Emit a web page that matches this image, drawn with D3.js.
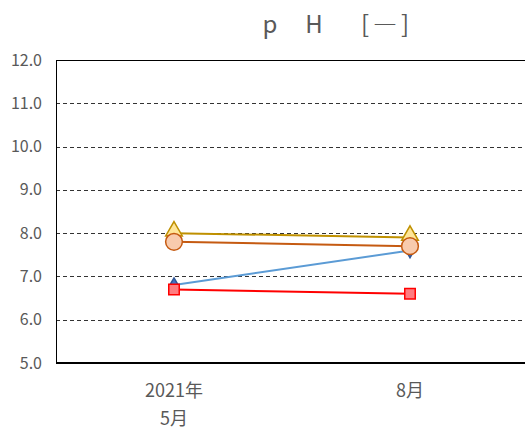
<!DOCTYPE html>
<html>
<head>
<meta charset="utf-8">
<script src="https://cdn.jsdelivr.net/npm/d3@7"></script>
<style>
  body { margin: 0; background: #fff; }
  text { font-family: "Noto Sans CJK JP", "Noto Sans", sans-serif; fill: #595959; }
</style>
</head>
<body>
<div id="chart-container"></div>
<script>
// categories (x) - two-line labels
var categories = ["2021年\n5月", "8月"];
var yTicks = [5, 6, 7, 8, 9, 10, 11, 12];

// series values
var phYellow = [8.0, 7.9];
var phOrange = [7.8, 7.7];
var phBlue = [6.8, 7.6];
var phRed = [6.7, 6.6];

// title pieces, spaced out like the original
var titleParts = ["p", "H", "[―]"];
var titleX = [270, 314, 387];

var series = [
  { name: "blue", values: phBlue, line: "#5B9BD5", fill: "#4472C4", stroke: "#2F5597", shape: d3.symbolDiamond, size: 60 },
  { name: "yellow", values: phYellow, line: "#BF9000", fill: "#FFE699", stroke: "#BF9000", shape: d3.symbolTriangle, size: 120 },
  { name: "orange", values: phOrange, line: "#C55A11", fill: "#F8CBAD", stroke: "#C55A11", shape: d3.symbolCircle, size: 220 },
  { name: "red", values: phRed, line: "#FF0000", fill: "#FF7C80", stroke: "#FF0000", shape: d3.symbolSquare, size: 110 }
];

var W = 525, H = 432;
var margin = { top: 60, right: 0, bottom: 69, left: 56 };
var plotW = 472; // runs off the right edge like the original
var plotH = H - margin.top - margin.bottom;

var svg = d3.select("#chart-container").append("svg")
  .attr("width", W).attr("height", H);

var g = svg.append("g")
  .attr("transform", "translate(" + margin.left + "," + margin.top + ")");

var x = d3.scaleBand().domain(d3.range(categories.length)).range([0, plotW]);
var y = d3.scaleLinear().domain([5, 12]).range([plotH, 0]);

// grid
g.selectAll(".grid")
  .data(yTicks.filter(function(t) { return t > 5 && t < 12; }))
  .enter().append("line")
  .attr("x1", 0).attr("x2", plotW)
  .attr("y1", function(d) { return Math.round(y(d)) + 0.5; })
  .attr("y2", function(d) { return Math.round(y(d)) + 0.5; })
  .attr("stroke", "#333").attr("stroke-width", 1)
  .attr("stroke-dasharray", "4,3");

// frame
g.append("line").attr("x1", 0).attr("x2", plotW)
  .attr("y1", 0.5).attr("y2", 0.5).attr("stroke", "#000").attr("stroke-width", 1);
g.append("line").attr("x1", 0.5).attr("x2", 0.5)
  .attr("y1", 0).attr("y2", plotH).attr("stroke", "#000").attr("stroke-width", 1);
g.append("line").attr("x1", 0).attr("x2", plotW)
  .attr("y1", plotH).attr("y2", plotH).attr("stroke", "#000").attr("stroke-width", 2);

// y labels
g.selectAll(".ylab").data(yTicks).enter().append("text")
  .attr("x", -14).attr("y", function(d) { return y(d); })
  .attr("dy", "0.35em")
  .attr("text-anchor", "end")
  .style("font-size", "16px")
  .text(function(d) { return d.toFixed(1); });

// x labels
categories.forEach(function(c, i) {
  var cx = x(i) + x.bandwidth() / 2;
  var t = g.append("text")
    .attr("y", 397 - margin.top)
    .attr("text-anchor", "middle")
    .style("font-size", "18px");
  c.split("\n").forEach(function(part, j) {
    t.append("tspan")
      .attr("x", cx)
      .attr("dy", j === 0 ? 0 : 28)
      .text(part);
  });
});

// lines + markers
var line = d3.line()
  .x(function(d, i) { return x(i) + x.bandwidth() / 2; })
  .y(function(d) { return y(d); });

series.forEach(function(s) {
  g.append("path")
    .datum(s.values)
    .attr("fill", "none")
    .attr("stroke", s.line)
    .attr("stroke-width", 2)
    .attr("d", line);
});

series.forEach(function(s) {
  g.selectAll(".m-" + s.name).data(s.values).enter().append("path")
    .attr("d", d3.symbol().type(s.shape).size(s.size))
    .attr("transform", function(d, i) {
      var dy = s.shape === d3.symbolTriangle ? -2 : 0;
      return "translate(" + (x(i) + x.bandwidth() / 2) + "," + (y(d) + dy) + ")";
    })
    .attr("fill", s.fill)
    .attr("stroke", s.stroke)
    .attr("stroke-width", 1.5);
});

// title
var title = svg.append("text")
  .attr("y", 33)
  .attr("text-anchor", "middle")
  .style("font-size", "24px");
titleParts.forEach(function(p, i) {
  title.append("tspan").attr("x", titleX[i])
    .style("letter-spacing", i === 2 ? "4px" : null)
    .text(p);
});
</script>
</body>
</html>
